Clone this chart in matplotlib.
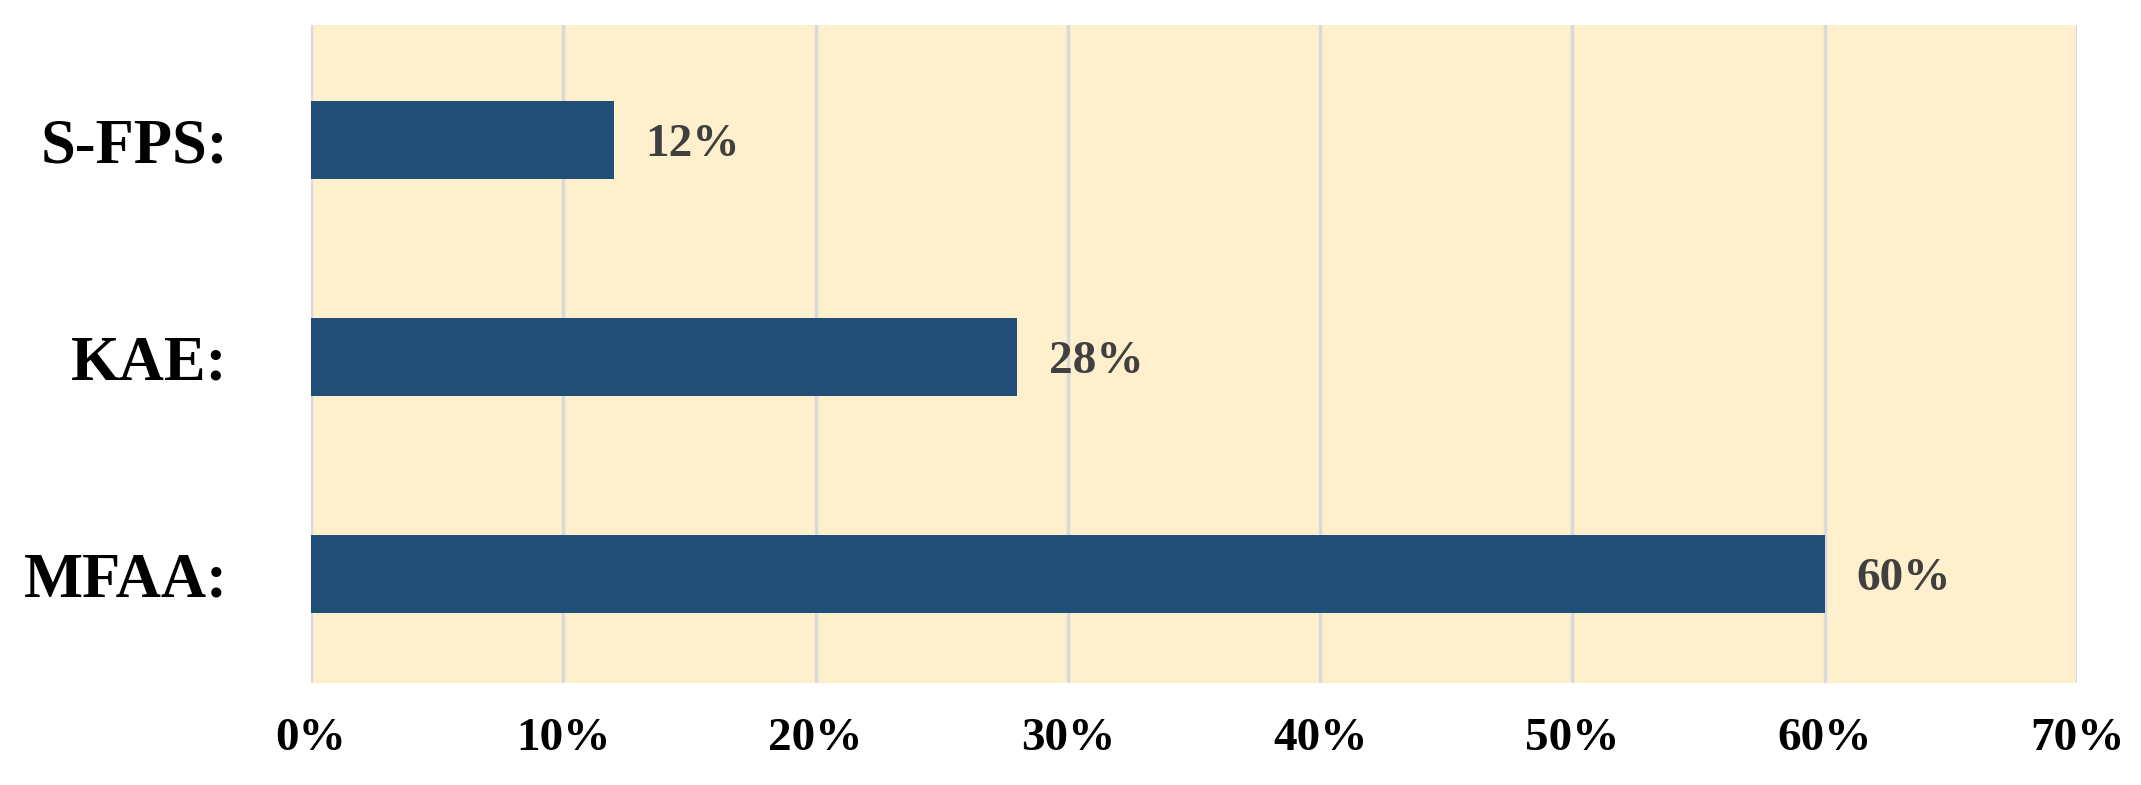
import matplotlib
matplotlib.use("Agg")
import matplotlib.pyplot as plt
from matplotlib.ticker import FuncFormatter

# data
methods = ['MFAA:', 'KAE:', 'S-FPS:']
shares = [60, 28, 12]
xticks = [0, 10, 20, 30, 40, 50, 60, 70]

serif = ['Liberation Serif', 'DejaVu Serif']

fig = plt.figure(figsize=(21.41, 7.85), dpi=100)
ax = fig.add_axes([0.1453, 0.13, 0.8248, 0.838])

ax.set_facecolor('#FEF0CD')
ax.barh(range(len(methods)), shares, height=0.36, color='#214F78', zorder=3)

# value labels at the end of each bar, digits centred on the bar
for i, v in enumerate(shares):
    ax.text(v + 1.25, i - 0.074, f'{v}%', va='baseline', ha='left', fontsize=34,
            fontweight='bold', color='#404040', family=serif)

ax.set_xlim(0, 70)
ax.set_ylim(-0.5, 2.53)
ax.set_xticks(xticks)
ax.xaxis.set_major_formatter(FuncFormatter(lambda x, p: f'{x:.0f}%'))
ax.set_yticks(range(len(methods)))
ax.set_yticklabels(methods)

ax.grid(axis='x', color='#D9D9D9', linewidth=2.5, zorder=0)
ax.set_axisbelow(True)
for s in ax.spines.values():
    s.set_visible(False)
ax.tick_params(length=0)
ax.tick_params(axis='x', pad=25)
ax.tick_params(axis='y', pad=60)

for lab in ax.get_xticklabels():
    lab.set_family(serif)
    lab.set_fontweight('bold')
    lab.set_fontsize(34)
for lab in ax.get_yticklabels():
    lab.set_family(serif)
    lab.set_fontweight('bold')
    lab.set_fontsize(45)

fig.savefig('out.png', dpi=100)
